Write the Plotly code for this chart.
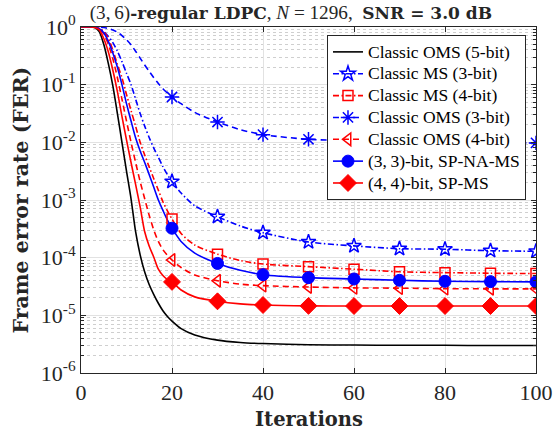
import plotly.graph_objects as go

# ---------------- data ----------------
iterations = [0, 1, 2, 3, 4, 5, 6, 7, 8, 9, 10, 11, 12, 13, 14, 15, 16, 17, 18, 19,
              20, 22, 25, 30, 35, 40, 50, 60, 70, 80, 90, 100]
marker_iterations = [20, 30, 40, 50, 60, 70, 80, 90, 100]

fer_oms5 = [1, 1, 1, 0.977, 0.832, 0.501, 0.234, 0.0955, 0.0316, 0.01, 3.16e-3, 1.05e-3,
            2.82e-4, 1.12e-4, 5.62e-5, 3.39e-5, 2.29e-5, 1.62e-5, 1.20e-5, 9.55e-6,
            7.94e-6, 5.89e-6, 4.57e-6, 3.72e-6, 3.39e-6, 3.24e-6, 3.09e-6, 3.05e-6,
            3.02e-6, 3.02e-6, 2.99e-6, 2.99e-6]
fer_ms3 = [1, 1, 1, 0.989, 0.933, 0.832, 0.692, 0.537, 0.380, 0.251, 0.158, 0.1,
           0.0562, 0.0316, 0.0191, 0.012, 7.94e-3, 5.50e-3, 3.80e-3, 2.75e-3,
           2.09e-3, 1.32e-3, 7.94e-4, 5.13e-4, 3.55e-4, 2.71e-4, 1.87e-4, 1.60e-4,
           1.43e-4, 1.40e-4, 1.32e-4, 1.29e-4]
fer_ms4 = [1, 1, 1, 0.993, 0.955, 0.832, 0.631, 0.398, 0.224, 0.132, 0.0676, 0.0355,
           0.0191, 0.01, 6.03e-3, 3.72e-3, 2.34e-3, 1.48e-3, 9.33e-4, 6.46e-4,
           4.68e-4, 2.63e-4, 1.66e-4, 1.15e-4, 8.91e-5, 7.76e-5, 6.98e-5, 6.31e-5,
           5.69e-5, 5.50e-5, 5.37e-5, 5.30e-5]
fer_oms3 = [1, 1, 1, 1, 0.993, 0.977, 0.944, 0.891, 0.813, 0.708, 0.603, 0.490,
            0.380, 0.288, 0.219, 0.170, 0.132, 0.105, 0.0851, 0.0716,
            0.0611, 0.0468, 0.0331, 0.0225, 0.0166, 0.0136, 0.0113, 0.0107,
            0.0104, 0.0101, 9.89e-3, 9.77e-3]
fer_oms4 = [1, 1, 1, 0.989, 0.933, 0.759, 0.501, 0.282, 0.132, 0.0562, 0.0234, 0.01,
            4.47e-3, 2.09e-3, 1.05e-3, 5.37e-4, 3.02e-4, 1.91e-4, 1.38e-4, 1.10e-4,
            9.12e-5, 6.76e-5, 5.01e-5, 3.98e-5, 3.47e-5, 3.27e-5, 3.10e-5, 2.99e-5,
            2.96e-5, 2.90e-5, 2.88e-5, 2.88e-5]
fer_spnams33 = [1, 1, 1, 0.989, 0.933, 0.794, 0.562, 0.355, 0.2, 0.1, 0.0468, 0.0234,
                0.012, 7.08e-3, 4.47e-3, 2.75e-3, 1.66e-3, 1.0e-3, 6.61e-4, 4.47e-4,
                3.24e-4, 1.91e-4, 1.20e-4, 7.94e-5, 6.03e-5, 5.07e-5, 4.50e-5, 4.27e-5,
                4.05e-5, 3.89e-5, 3.84e-5, 3.80e-5]
fer_spms44 = [1, 1, 1, 0.977, 0.891, 0.631, 0.372, 0.178, 0.0759, 0.0282, 0.011, 4.47e-3,
              1.86e-3, 7.59e-4, 2.82e-4, 1.58e-4, 1.02e-4, 6.31e-5, 4.90e-5, 4.17e-5,
              3.80e-5, 2.75e-5, 2.09e-5, 1.75e-5, 1.58e-5, 1.51e-5, 1.46e-5, 1.45e-5,
              1.45e-5, 1.45e-5, 1.45e-5, 1.45e-5]

x_ticks = [0, 20, 40, 60, 80, 100]
y_exponents = [-6, -5, -4, -3, -2, -1, 0]
y_tick_labels = ["10<sup>-6</sup>", "10<sup>-5</sup>", "10<sup>-4</sup>", "10<sup>-3</sup>",
                 "10<sup>-2</sup>", "10<sup>-1</sup>", "10<sup>0</sup>"]

# ---------------- styling ----------------
FONT = "Liberation Serif"
BOLDFONT = "DejaVu Serif"
BLUE = "#0000ff"
RED = "#ff0000"
BLACK = "#000000"
AX = "#262626"
DASH = "6px,4px"
DASHDOT = "6px,2.5px,1.5px,2.5px"
LW = 1.6

series = [
    ("Classic OMS (5-bit)", fer_oms5, BLACK, "solid", None, 0, False),
    ("Classic MS (3-bit)", fer_ms3, BLUE, DASHDOT, "star-open", 11, False),
    ("Classic MS (4-bit)", fer_ms4, RED, DASHDOT, "square-open", 10, False),
    ("Classic OMS (3-bit)", fer_oms3, BLUE, DASH, "asterisk-open", 12, False),
    ("Classic OMS (4-bit)", fer_oms4, RED, DASH, "triangle-left-open", 11, False),
    ("(3,\u20093)-bit, SP-NA-MS", fer_spnams33, BLUE, "solid", "circle", 12, True),
    ("(4,\u20094)-bit, SP-MS", fer_spms44, RED, "solid", "diamond", 13, True),
]

fig = go.Figure()

# lines
for name, vals, color, dash, sym, size, filled in series:
    fig.add_trace(go.Scatter(
        x=iterations, y=vals, mode="lines",
        line=dict(color=color, width=LW, dash=dash, shape="spline", smoothing=0.8),
        showlegend=False, hoverinfo="skip"))

# markers
for name, vals, color, dash, sym, size, filled in series:
    if sym is None:
        continue
    my = [vals[iterations.index(m)] for m in marker_iterations]
    fig.add_trace(go.Scatter(
        x=marker_iterations, y=my, mode="markers",
        marker=dict(symbol=sym, size=size, color=color,
                    line=dict(color=color, width=1.5 if not filled else 1)),
        showlegend=False, hoverinfo="skip"))

# legend entries
for name, vals, color, dash, sym, size, filled in series:
    kw = dict(x=[None], y=[None],
              name='<span style="font-size:17.5px">%s</span>' % name,
              line=dict(color=color, width=LW, dash=dash))
    if sym is None:
        kw["mode"] = "lines"
    else:
        kw["mode"] = "lines+markers"
        kw["marker"] = dict(symbol=sym, size=size, color=color,
                            line=dict(color=color, width=1.5 if not filled else 1))
    fig.add_trace(go.Scatter(**kw))

minor_vals = [k * 10.0 ** e for e in range(-6, 0) for k in range(2, 10)]

bold = lambda s, size: ('<span style="font-family:%s;font-size:%spx;font-weight:bold">%s</span>'
                        % (BOLDFONT, size, s))

title_text = ("(3,\u20096)" + bold("-regular LDPC", 17) + ", <i>N</i> = 1296,\u00a0\u00a0"
              + bold("SNR = 3.0 dB", 17))

fig.update_layout(
    width=553, height=437,
    margin=dict(l=81, r=17, t=27, b=64, autoexpand=False),
    paper_bgcolor="white", plot_bgcolor="white",
    font=dict(family=FONT, color=AX, size=17),
    title=dict(
        text=title_text,
        x=0.526, xref="container", xanchor="center",
        y=0.9725, yref="container", yanchor="middle",
        font=dict(family=FONT, size=19.2, color=AX)),
    showlegend=True,
    legend=dict(x=0.978, xanchor="right", y=0.977, yanchor="top",
                bgcolor="white", bordercolor=AX, borderwidth=1,
                font=dict(family=FONT, size=14.5, color=BLACK),
                itemwidth=30, tracegroupgap=0),
    xaxis=dict(range=[0, 100], tickvals=x_ticks, ticks="inside", ticklen=5,
               tickcolor=AX, showline=True, linecolor=AX, linewidth=1, mirror="allticks",
               showgrid=True, gridcolor="#e2e2e2", gridwidth=1, zeroline=False,
               automargin=False,
               tickfont=dict(family=FONT, size=22, color=AX)),
    yaxis=dict(type="log", range=[-6, 0],
               tickvals=[10.0 ** e for e in y_exponents], ticktext=y_tick_labels,
               ticks="inside", ticklen=5, tickcolor=AX, automargin=False,
               showline=True, linecolor=AX, linewidth=1, mirror="allticks",
               showgrid=True, gridcolor="#e2e2e2", gridwidth=1, zeroline=False,
               tickfont=dict(family=FONT, size=22, color=AX),
               minor=dict(tickmode="array", tickvals=minor_vals, ticks="inside",
                          ticklen=3, tickcolor=AX, showgrid=True,
                          gridcolor="#cfcfcf", griddash="dot", gridwidth=1)),
    annotations=[
        dict(text="<b>Frame error rate (FER)</b>", xref="paper", yref="paper",
             x=-0.1308, y=0.5, textangle=-90, showarrow=False,
             xanchor="center", yanchor="middle",
             font=dict(family=BOLDFONT, size=20.5, color=AX)),
        dict(text="<b>Iterations</b>", xref="paper", yref="paper",
             x=0.5, y=-0.133, showarrow=False, xanchor="center", yanchor="middle",
             font=dict(family=BOLDFONT, size=19.5, color=AX)),
    ],
)

fig.write_html("out.html", config={"displayModeBar": False},
               post_script="document.body.style.margin='0px';")
